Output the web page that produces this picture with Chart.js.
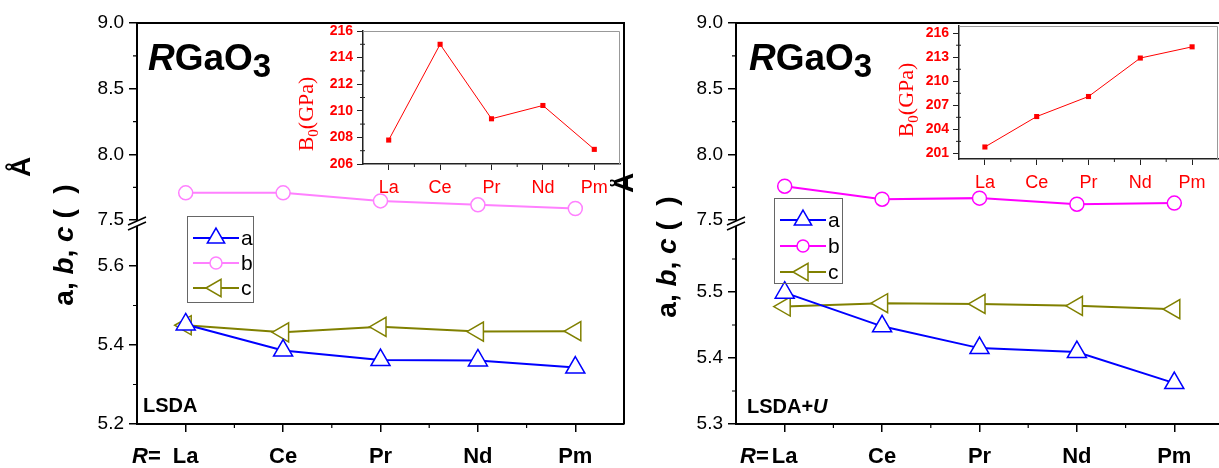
<!DOCTYPE html>
<html>
<head>
<meta charset="utf-8">
<title>RGaO3 lattice constants</title>
<script src="https://cdn.jsdelivr.net/npm/chart.js@4.4.0/dist/chart.umd.min.js"></script>
<style>
html, body { margin: 0; padding: 0; background: #fff; overflow: hidden; }
#wrap { position: relative; width: 1219px; height: 468px; overflow: hidden; background: #fff; }
#wrap canvas { position: absolute; }
</style>
</head>
<body>
<div id="wrap">
  <canvas id="lsda" width="640" height="468" style="left:0px;top:0px"></canvas>
  <canvas id="ldau" width="630" height="468" style="left:610px;top:0px"></canvas>
  <canvas id="bulkLsda" width="360" height="190" style="left:270px;top:18px"></canvas>
  <canvas id="bulkLdau" width="350" height="190" style="left:880px;top:10px"></canvas>
</div>
<script>
var categories = ['La', 'Ce', 'Pr', 'Nd', 'Pm'];

// lattice constants (Å), LSDA
var lsdaA = [5.452, 5.386, 5.362, 5.361, 5.343];
var lsdaB = [7.708, 7.708, 7.647, 7.617, 7.589];
var lsdaC = [5.450, 5.432, 5.446, 5.434, 5.435];

// lattice constants (Å), LSDA+U
var ldauA = [5.499, 5.448, 5.415, 5.409, 5.362];
var ldauB = [7.759, 7.660, 7.668, 7.622, 7.630];
var ldauC = [5.478, 5.483, 5.482, 5.479, 5.474];

// bulk modulus B0 (GPa)
var bulkLsda = [207.8, 215.0, 209.4, 210.4, 207.1];
var bulkLdau = [201.8, 205.6, 208.1, 212.9, 214.3];

// tick labels
var upperTicks = [7.5, 8.0, 8.5, 9.0];
var lowerTicksLsda = [5.2, 5.4, 5.6];
var lowerTicksLdau = [5.3, 5.4, 5.5];
var bulkTicksLsda = [206, 208, 210, 212, 214, 216];
var bulkTicksLdau = [201, 204, 207, 210, 213, 216];

var sans = 'Arial, "Liberation Sans", sans-serif';
var serif = '"Times New Roman", "Liberation Serif", serif';

// half-way ticks between the labelled ones (and one past the last if it fits)
function minorValues(ticks, min, max) {
    var out = [];
    var step = ticks[1] - ticks[0];
    for (var i = 0; i < ticks.length; i++) {
        var v = ticks[i] + step / 2;
        if (v + step / 4 < max) out.push(v);
    }
    return out;
}

function runsWidth(ctx, parts) {
    var w = 0;
    parts.forEach(function (p) {
        ctx.font = p.font;
        w += ctx.measureText(p.t).width;
    });
    return w;
}

function runs(ctx, parts, x, y) {
    parts.forEach(function (p) {
        ctx.font = p.font;
        ctx.fillText(p.t, x, y + (p.dy || 0));
        x += ctx.measureText(p.t).width;
    });
    return x;
}

function series(label, data, color, style, rotation, axis) {
    return {
        label: label,
        data: data,
        yAxisID: axis,
        borderColor: color,
        borderWidth: 2,
        tension: 0,
        pointStyle: style,
        pointRotation: rotation,
        pointRadius: style == 'circle' ? 7 : 11,
        pointBorderWidth: 1.5,
        pointBorderColor: color,
        pointBackgroundColor: '#fff'
    };
}

// frame, minor ticks, axis break, legend and the free text of a main panel
function mainDecor(p) {
    return {
        id: 'mainDecor',
        afterDraw: function (chart) {
            var ctx = chart.ctx;
            var area = chart.chartArea;
            var xs = chart.scales.x, hi = chart.scales.yHigh, lo = chart.scales.yLow;
            var ox = p.left;
            ctx.save();

            ctx.strokeStyle = '#000';
            ctx.lineWidth = 2;
            ctx.beginPath();
            ctx.moveTo(area.left, area.top);
            ctx.lineTo(area.right, area.top);
            ctx.lineTo(area.right, area.bottom);
            ctx.stroke();

            ctx.lineWidth = 1.2;
            ctx.beginPath();
            [[hi, upperTicks], [lo, p.lowTicks]].forEach(function (pair) {
                minorValues(pair[1], pair[0].min, pair[0].max).forEach(function (v) {
                    var y = pair[0].getPixelForValue(v);
                    ctx.moveTo(area.left - 4, y);
                    ctx.lineTo(area.left, y);
                });
            });
            for (var i = 0; i < categories.length - 1; i++) {
                var mx = (xs.getPixelForValue(i) + xs.getPixelForValue(i + 1)) / 2;
                ctx.moveTo(mx, area.bottom);
                ctx.lineTo(mx, area.bottom + 4);
            }
            ctx.stroke();

            // axis break between the two y sections
            var by = hi.bottom, bx = area.left;
            ctx.fillStyle = '#fff';
            ctx.beginPath();
            ctx.moveTo(bx - 9, by + 1.5);
            ctx.lineTo(bx + 9, by - 6.5);
            ctx.lineTo(bx + 9, by - 1.5);
            ctx.lineTo(bx - 9, by + 6.5);
            ctx.closePath();
            ctx.fill();
            ctx.lineWidth = 1.5;
            ctx.beginPath();
            ctx.moveTo(bx - 9, by + 1.5);
            ctx.lineTo(bx + 9, by - 6.5);
            ctx.moveTo(bx - 9, by + 6.5);
            ctx.lineTo(bx + 9, by - 1.5);
            ctx.stroke();

            // legend
            var lb = p.legendBox;
            var lx = lb[0] - ox;
            ctx.strokeStyle = '#666';
            ctx.lineWidth = 1;
            ctx.strokeRect(lx + 0.5, lb[1] + 0.5, lb[2], lb[3]);
            chart.data.datasets.forEach(function (ds, i) {
                var y = lb[1] + 22 + i * p.legendStep;
                ctx.strokeStyle = ds.borderColor;
                ctx.lineWidth = 2;
                ctx.beginPath();
                ctx.moveTo(lx + 6, y);
                ctx.lineTo(lx + 52, y);
                ctx.stroke();
                ctx.fillStyle = '#fff';
                ctx.lineWidth = 1.5;
                Chart.helpers.drawPoint(ctx, {
                    pointStyle: ds.pointStyle,
                    radius: ds.pointRadius - 1,
                    rotation: ds.pointRotation,
                    borderWidth: 1.5
                }, lx + 29, y);
                ctx.fillStyle = '#000';
                ctx.font = '21px ' + sans;
                ctx.textAlign = 'left';
                ctx.textBaseline = 'middle';
                ctx.fillText(ds.label, lx + 54, y + 1);
            });

            ctx.fillStyle = '#000';
            ctx.textAlign = 'left';
            ctx.textBaseline = 'alphabetic';
            runs(ctx, [
                { t: 'R', font: 'italic bold 37px ' + sans },
                { t: 'GaO', font: 'bold 37px ' + sans },
                { t: '3', font: 'bold 33px ' + sans, dy: 7 }
            ], p.titleAt[0] - ox, p.titleAt[1]);

            runs(ctx, p.method, p.methodAt[0] - ox, p.methodAt[1]);

            runs(ctx, [
                { t: 'R', font: 'italic bold 22px ' + sans },
                { t: '=', font: 'bold 22px ' + sans }
            ], p.rAt[0] - ox, p.rAt[1]);

            // y axis title, written bottom to top
            var yt = [
                { t: 'a', font: 'bold 28px ' + sans },
                { t: ', ', font: 'bold 28px ' + sans },
                { t: 'b', font: 'italic bold 28px ' + sans },
                { t: ', ', font: 'bold 28px ' + sans },
                { t: 'c', font: 'italic bold 28px ' + sans },
                { t: ' (  )', font: 'bold 28px ' + sans }
            ];
            ctx.save();
            ctx.translate(p.yTitleAt[0] - ox, p.yTitleAt[1]);
            ctx.rotate(-Math.PI / 2);
            ctx.textBaseline = 'middle';
            runs(ctx, yt, -runsWidth(ctx, yt) / 2, 0);
            ctx.restore();

            ctx.save();
            ctx.translate(p.angstromAt[0] - ox, p.angstromAt[1]);
            ctx.rotate(-Math.PI / 2);
            ctx.textAlign = 'center';
            ctx.textBaseline = 'middle';
            ctx.font = 'bold 28px ' + sans;
            ctx.fillText('Å', 0, 0);
            ctx.restore();

            ctx.restore();
        }
    };
}

function mainChart(p) {
    return new Chart(document.getElementById(p.canvas), {
        type: 'line',
        data: {
            labels: categories,
            datasets: [
                series('a', p.a, '#0000ff', 'triangle', 0, 'yLow'),
                series('b', p.b, p.bColor, 'circle', 0, 'yHigh'),
                series('c', p.c, '#808000', 'triangle', -90, 'yLow')
            ]
        },
        options: {
            responsive: false,
            animation: false,
            events: [],
            layout: { padding: p.padding },
            plugins: { legend: { display: false }, tooltip: { enabled: false } },
            scales: {
                x: {
                    type: 'category',
                    offset: true,
                    border: { color: '#000', width: 2 },
                    grid: { drawOnChartArea: false, color: '#000', lineWidth: 1.5, tickLength: 8 },
                    ticks: {
                        color: '#000',
                        font: { family: sans, size: 22, weight: 'bold' },
                        padding: 12,
                        maxRotation: 0,
                        autoSkip: false
                    },
                    afterFit: function (s) { s.height = 40; }
                },
                yHigh: {
                    type: 'linear',
                    position: 'left',
                    stack: 'abc',
                    stackWeight: 1,
                    weight: 1,
                    min: 7.475,
                    max: 9.0,
                    afterBuildTicks: function (s) {
                        s.ticks = upperTicks.map(function (v) { return { value: v }; });
                    },
                    border: { color: '#000', width: 2 },
                    grid: { drawOnChartArea: false, color: '#000', lineWidth: 1.5, tickLength: 8 },
                    ticks: {
                        color: '#000',
                        font: { family: sans, size: 19 },
                        padding: 5,
                        callback: function (v) { return v.toFixed(1); }
                    },
                    afterFit: function (s) { s.width = 60; }
                },
                yLow: {
                    type: 'linear',
                    position: 'left',
                    stack: 'abc',
                    stackWeight: 1,
                    weight: 0,
                    min: p.lowMin,
                    max: p.lowMax,
                    afterBuildTicks: function (s) {
                        s.ticks = p.lowTicks.map(function (v) { return { value: v }; });
                    },
                    border: { color: '#000', width: 2 },
                    grid: { drawOnChartArea: false, color: '#000', lineWidth: 1.5, tickLength: 8 },
                    ticks: {
                        color: '#000',
                        font: { family: sans, size: 19 },
                        padding: 5,
                        callback: function (v) { return v.toFixed(1); }
                    },
                    afterFit: function (s) { s.width = 60; }
                }
            }
        },
        plugins: [mainDecor(p)]
    });
}

// gray frame, minor ticks and the B0 title of an inset
function insetDecor(p) {
    return {
        id: 'insetDecor',
        afterDraw: function (chart) {
            var ctx = chart.ctx;
            var area = chart.chartArea;
            var xs = chart.scales.x, ys = chart.scales.y;
            ctx.save();
            ctx.strokeStyle = '#999';
            ctx.lineWidth = 1;
            ctx.beginPath();
            ctx.moveTo(area.left, area.top + 0.5);
            ctx.lineTo(area.right - 0.5, area.top + 0.5);
            ctx.lineTo(area.right - 0.5, area.bottom);
            ctx.stroke();

            ctx.strokeStyle = '#222';
            ctx.beginPath();
            minorValues(p.ticks, ys.min, ys.max).forEach(function (v) {
                var y = ys.getPixelForValue(v);
                ctx.moveTo(area.left - 3, y);
                ctx.lineTo(area.left + 2, y);
            });
            for (var i = 0; i < categories.length - 1; i++) {
                var mx = (xs.getPixelForValue(i) + xs.getPixelForValue(i + 1)) / 2;
                ctx.moveTo(mx, area.bottom);
                ctx.lineTo(mx, area.bottom + 3);
            }
            ctx.stroke();

            var t = [
                { t: 'B', font: '22px ' + serif },
                { t: '0', font: '15px ' + serif, dy: 5 },
                { t: '(GPa)', font: '22px ' + serif }
            ];
            ctx.save();
            ctx.translate(p.titleAt[0] - p.left, p.titleAt[1] - p.top);
            ctx.rotate(-Math.PI / 2);
            ctx.fillStyle = '#ff0000';
            ctx.textBaseline = 'alphabetic';
            runs(ctx, t, -runsWidth(ctx, t) / 2, 7);
            ctx.restore();
            ctx.restore();
        }
    };
}

function insetChart(p) {
    return new Chart(document.getElementById(p.canvas), {
        type: 'line',
        data: {
            labels: categories,
            datasets: [{
                data: p.values,
                borderColor: '#ff0000',
                borderWidth: 1,
                tension: 0,
                pointStyle: 'rect',
                pointRadius: 3.6,
                pointBorderWidth: 0,
                pointBackgroundColor: '#ff0000'
            }]
        },
        options: {
            responsive: false,
            animation: false,
            events: [],
            layout: { padding: p.padding },
            plugins: { legend: { display: false }, tooltip: { enabled: false } },
            scales: {
                x: {
                    type: 'category',
                    offset: true,
                    border: { color: '#222', width: 1.5 },
                    grid: { drawOnChartArea: false, color: '#222', lineWidth: 1, tickLength: 6 },
                    ticks: { color: '#ff0000', font: { family: sans, size: 18 }, padding: 7, maxRotation: 0, autoSkip: false },
                    afterFit: function (s) { s.height = 30; }
                },
                y: {
                    type: 'linear',
                    min: p.min,
                    max: p.max,
                    afterBuildTicks: function (s) {
                        s.ticks = p.ticks.map(function (v) { return { value: v }; });
                    },
                    border: { color: '#222', width: 1.5 },
                    grid: { drawOnChartArea: false, color: '#222', lineWidth: 1, tickLength: 6 },
                    ticks: { color: '#ff0000', font: { family: sans, size: 14, weight: 'bold' }, padding: 4 },
                    afterFit: function (s) { s.width = 50; }
                }
            }
        },
        plugins: [insetDecor(p)]
    });
}

mainChart({
    canvas: 'lsda', left: 0,
    a: lsdaA, b: lsdaB, c: lsdaC, bColor: '#ff80ff',
    lowMin: 5.2, lowMax: 5.7076, lowTicks: lowerTicksLsda,
    padding: { left: 77, right: 16, top: 23, bottom: 4 },
    legendBox: [187, 216, 66, 86], legendStep: 25,
    titleAt: [148, 70],
    method: [{ t: 'LSDA', font: 'bold 20px ' + sans }], methodAt: [143, 412],
    rAt: [132, 463],
    yTitleAt: [65, 245], angstromAt: [22, 167]
});

mainChart({
    canvas: 'ldau', left: 610,
    a: ldauA, b: ldauB, c: ldauC, bColor: '#ff00ff',
    lowMin: 5.3, lowMax: 5.6038, lowTicks: lowerTicksLdau,
    padding: { left: 66, right: 17, top: 23, bottom: 4 },
    legendBox: [774, 198, 68, 85], legendStep: 26,
    titleAt: [749, 70],
    method: [{ t: 'LSDA+', font: 'bold 20px ' + sans }, { t: 'U', font: 'italic bold 20px ' + sans }],
    methodAt: [747, 413],
    rAt: [740, 463],
    yTitleAt: [668, 257], angstromAt: [625, 183]
});

insetChart({
    canvas: 'bulkLsda', left: 270, top: 18,
    values: bulkLsda, min: 206, max: 216, ticks: bulkTicksLsda,
    padding: { left: 43, right: 10, top: 13, bottom: 14 },
    titleAt: [306, 114]
});

insetChart({
    canvas: 'bulkLdau', left: 880, top: 10,
    values: bulkLdau, min: 200.3, max: 216.9, ticks: bulkTicksLdau,
    padding: { left: 29, right: 12, top: 16, bottom: 11 },
    titleAt: [906, 100]
});
</script>
</body>
</html>
